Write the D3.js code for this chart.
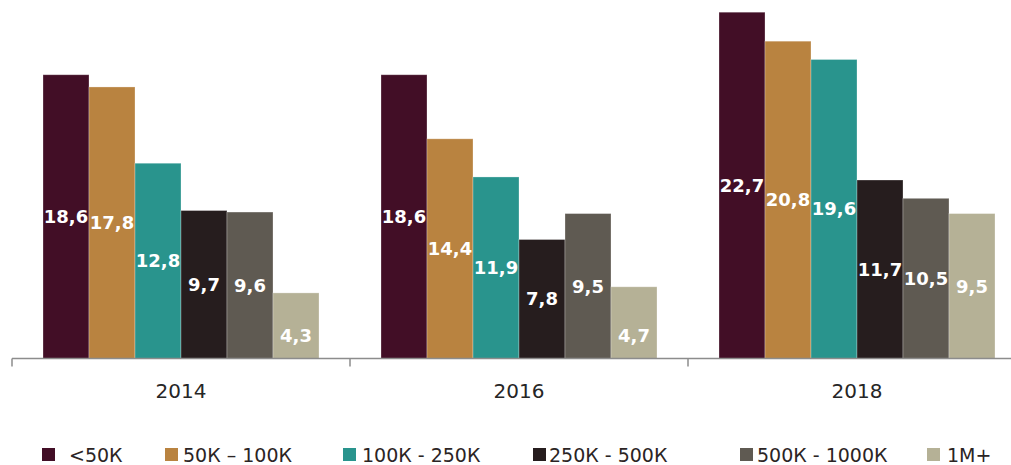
<!DOCTYPE html>
<html>
<head>
<meta charset="utf-8">
<script src="https://cdn.jsdelivr.net/npm/d3@7/dist/d3.min.js"></script>
<style>
  html, body { margin: 0; padding: 0; background: #fff; }
  svg { display: block; }
</style>
</head>
<body>
<svg id="chart" width="1011" height="465"></svg>
<script>
const years = ["2014", "2016", "2018"];
const seriesNames = ["<50К", "50К – 100К", "100К - 250К", "250К - 500К", "500К - 1000К", "1М+"];
const seriesColors = ["#420e26", "#b98340", "#29948d", "#261d1e", "#5f5a52", "#b5b196"];
const values2014 = [18.6, 17.8, 12.8, 9.7, 9.6, 4.3];
const values2016 = [18.6, 14.4, 11.9, 7.8, 9.5, 4.7];
const values2018 = [22.7, 20.8, 19.6, 11.7, 10.5, 9.5];
const valuesByYear = [values2014, values2016, values2018];

const svg = d3.select("#chart");
const baseline = 358.5;

const x0 = d3.scaleBand().domain(years).range([12, 1026]).paddingInner(0).paddingOuter(0);
const x1 = d3.scaleBand().domain(d3.range(seriesNames.length)).range([31, 307]).padding(0);
const y = d3.scaleLinear().domain([0, 23.5]).range([baseline, 0]);

const fmt = v => String(v).replace(".", ",");

const groups = svg.selectAll("g.year")
  .data(years.map((yr, i) => ({ yr, vals: valuesByYear[i] })))
  .join("g")
  .attr("class", "year")
  .attr("transform", d => `translate(${x0(d.yr)},0)`);

groups.selectAll("rect")
  .data(d => d.vals.map((v, i) => ({ v, i })))
  .join("rect")
  .attr("x", d => x1(d.i))
  .attr("y", d => y(d.v))
  .attr("width", x1.bandwidth())
  .attr("height", d => baseline - y(d.v))
  .attr("fill", d => seriesColors[d.i])
  .attr("stroke", "rgba(255,255,255,0.35)")
  .attr("stroke-width", 0.8);

groups.selectAll("text.lbl")
  .data(d => d.vals.map((v, i) => ({ v, i })))
  .join("text")
  .attr("class", "lbl")
  .attr("x", d => x1(d.i) + x1.bandwidth() / 2)
  .attr("y", d => {
    const h = baseline - y(d.v);
    return h < 90 ? baseline - 23 : (y(d.v) + baseline) / 2;
  })
  .attr("dy", "0.36em")
  .attr("text-anchor", "middle")
  .attr("fill", "#ffffff")
  .attr("font-family", "DejaVu Sans, sans-serif")
  .attr("font-weight", "bold")
  .attr("font-size", 18)
  .text(d => fmt(d.v));

// Axis
const axG = svg.append("g").attr("transform", `translate(0,${baseline})`);
axG.append("line").attr("x1", 12).attr("x2", 1011).attr("y1", 0).attr("y2", 0)
  .attr("stroke", "#8c8c8c").attr("stroke-width", 1.5);
axG.selectAll("line.tk")
  .data(years.map(yv => x0(yv)).concat([x0.range()[1]]))
  .join("line")
  .attr("class", "tk")
  .attr("x1", d => d).attr("x2", d => d)
  .attr("y1", 0).attr("y2", 8)
  .attr("stroke", "#8c8c8c").attr("stroke-width", 1.5);
axG.selectAll("text.yr")
  .data(years)
  .join("text")
  .attr("class", "yr")
  .attr("x", d => x0(d) + x0.bandwidth() / 2)
  .attr("y", 39)
  .attr("text-anchor", "middle")
  .attr("fill", "#262626")
  .attr("font-family", "DejaVu Sans, sans-serif")
  .attr("font-size", 20)
  .text(d => d);

// Legend
const legendX = [42, 165, 343, 533, 740, 927];
const legendTextOffset = [27, 18, 19, 16, 17, 20];
const lg = svg.append("g");
const items = lg.selectAll("g.li")
  .data(seriesNames.map((n, i) => ({ n, i })))
  .join("g")
  .attr("class", "li")
  .attr("transform", d => `translate(${legendX[d.i]},0)`);
items.append("rect")
  .attr("x", 0).attr("y", 448).attr("width", 13).attr("height", 13)
  .attr("fill", d => seriesColors[d.i]);
items.append("text")
  .attr("x", d => legendTextOffset[d.i])
  .attr("y", 462)
  .attr("fill", "#2b2424")
  .attr("font-family", "DejaVu Sans, sans-serif")
  .attr("font-size", 19)
  .text(d => d.n);
</script>
</body>
</html>
